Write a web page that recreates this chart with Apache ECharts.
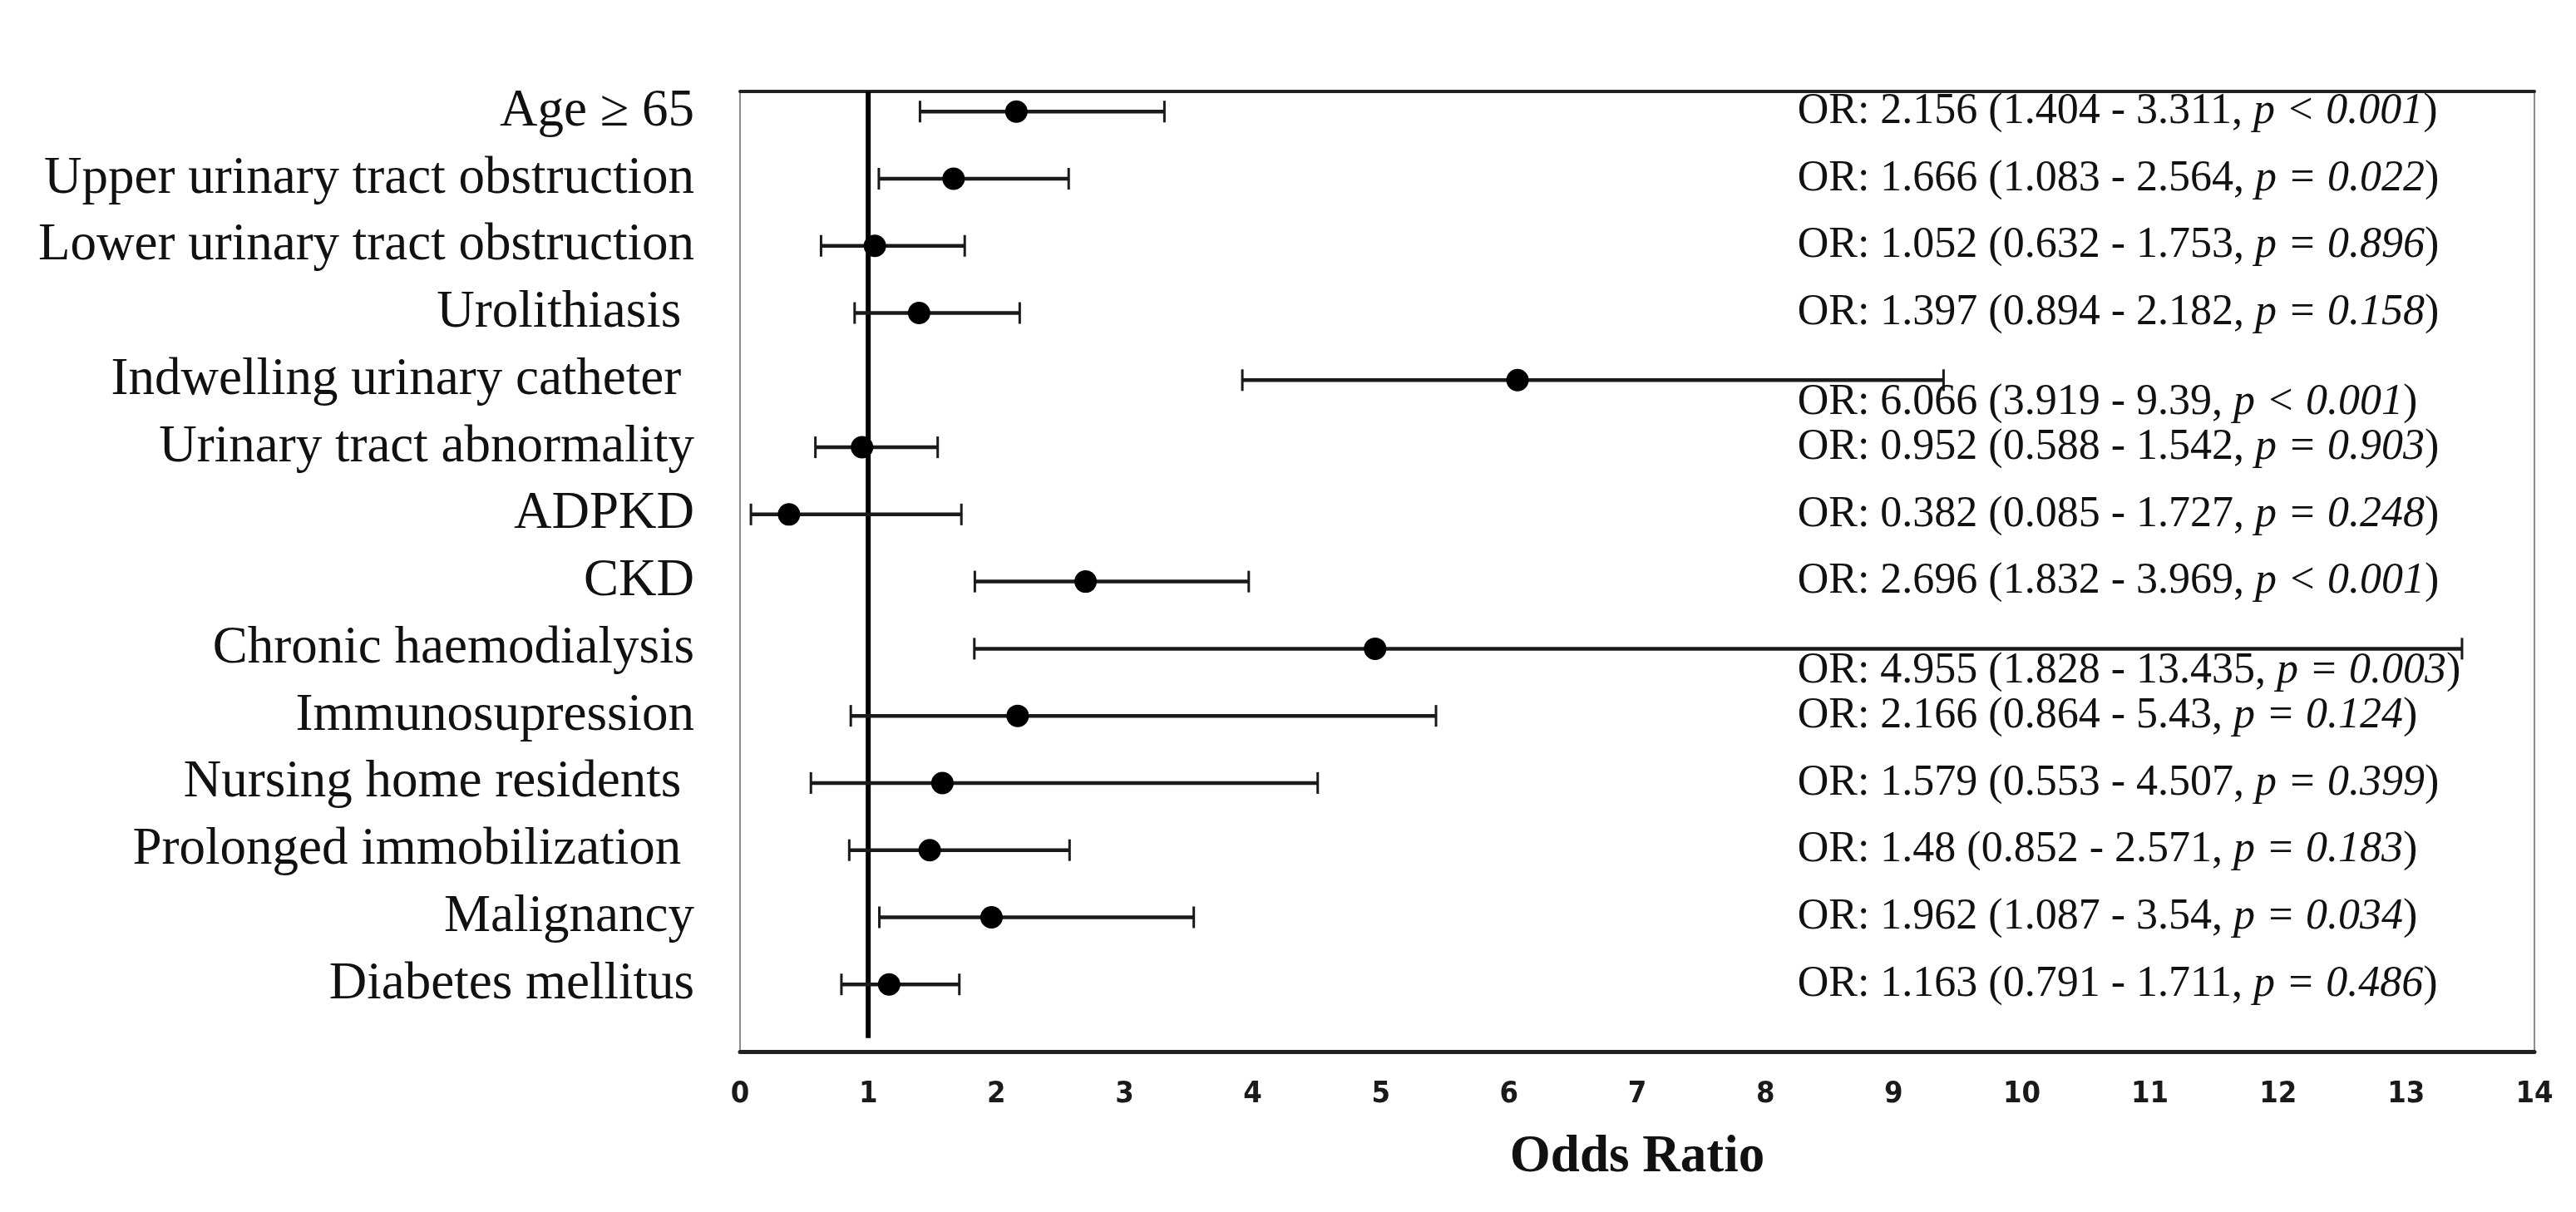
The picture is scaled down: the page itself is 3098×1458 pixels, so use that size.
<!DOCTYPE html>
<html>
<head>
<meta charset="utf-8">
<script src="https://cdn.jsdelivr.net/npm/echarts@6/dist/echarts.min.js"></script>
<style>
html,body{margin:0;padding:0;background:#fff;}
#chart{width:3098px;height:1458px;}
</style>
</head>
<body>
<div id="chart"></div>
<script>
// ---- data ----
const categories = [
  'Age \u2265 65',
  'Upper urinary tract obstruction',
  'Lower urinary tract obstruction',
  'Urolithiasis ',
  'Indwelling urinary catheter ',
  'Urinary tract abnormality',
  'ADPKD',
  'CKD',
  'Chronic haemodialysis',
  'Immunosupression',
  'Nursing home residents ',
  'Prolonged immobilization ',
  'Malignancy',
  'Diabetes mellitus'
];
const oddsRatio = [2.156, 1.666, 1.052, 1.397, 6.066, 0.952, 0.382, 2.696, 4.955, 2.166, 1.579, 1.48, 1.962, 1.163];
const ciLower   = [1.404, 1.083, 0.632, 0.894, 3.919, 0.588, 0.085, 1.832, 1.828, 0.864, 0.553, 0.852, 1.087, 0.791];
const ciUpper   = [3.311, 2.564, 1.753, 2.182, 9.39, 1.542, 1.727, 3.969, 13.435, 5.43, 4.507, 2.571, 3.54, 1.711];
const pValues   = ['< 0.001', '= 0.022', '= 0.896', '= 0.158', '< 0.001', '= 0.903', '= 0.248', '< 0.001', '= 0.003', '= 0.124', '= 0.399', '= 0.183', '= 0.034', '= 0.486'];
const xTicks    = [0, 1, 2, 3, 4, 5, 6, 7, 8, 9, 10, 11, 12, 13, 14];
const referenceOR = 1;

// ---- build ----
const rowIdx = categories.map((_, i) => i);
const seriesData = categories.map((_, i) => [ciLower[i], ciUpper[i], oddsRatio[i], i]);
const TEXT_COL = 8.25; // column (in OR units) where annotation text starts
const SERIF = '"Liberation Serif", "Times New Roman", serif';

const chart = echarts.init(document.getElementById('chart'), null, {renderer: 'canvas'});

const option = {
  backgroundColor: '#ffffff',
  animation: false,
  textStyle: {fontFamily: SERIF},
  grid: {
    left: 890, right: 50, top: 110, bottom: 193,
    show: true, borderColor: '#8c8c8c', borderWidth: 2, backgroundColor: 'transparent'
  },
  xAxis: [{
    type: 'value', min: xTicks[0], max: xTicks[xTicks.length - 1], interval: 1,
    position: 'bottom',
    axisLine: {show: true, onZero: false, lineStyle: {color: '#222', width: 5}},
    axisTick: {show: false},
    splitLine: {show: false},
    axisLabel: {fontFamily: '"DejaVu Sans Condensed", "DejaVu Sans", sans-serif', fontWeight: 'bold', fontSize: 36, color: '#1a1a1a', margin: 34},
    name: 'Odds Ratio', nameLocation: 'middle', nameGap: 96,
    nameTextStyle: {fontFamily: SERIF, fontWeight: 'bold', fontSize: 63, color: '#111'}
  }, {
    type: 'value', min: xTicks[0], max: xTicks[xTicks.length - 1], interval: 1,
    position: 'top',
    axisLine: {show: true, onZero: false, lineStyle: {color: '#222', width: 4}},
    axisTick: {show: false}, axisLabel: {show: false}, splitLine: {show: false}
  }],
  yAxis: {
    type: 'value', inverse: true, min: -0.3, max: 14,
    axisLine: {show: false}, axisTick: {show: false}, splitLine: {show: false},
    axisLabel: {
      customValues: rowIdx,
      formatter: v => categories[Math.round(v)] || '',
      fontFamily: SERIF, fontSize: 63, color: '#111', margin: 55
    }
  },
  series: [{
    type: 'line',
    silent: true,
    symbol: 'none',
    data: [[referenceOR, -0.3], [referenceOR, 13.8]],
    lineStyle: {color: '#000', width: 6},
    z: 1
  }, {
    type: 'custom',
    data: seriesData,
    encode: {x: [0, 1, 2], y: 3},
    z: 2,
    renderItem: function (params, api) {
      const lo = api.value(0), hi = api.value(1), or = api.value(2), i = api.value(3);
      const pLo = api.coord([lo, i]);
      const pHi = api.coord([hi, i]);
      const pOr = api.coord([or, i]);
      const pTx = api.coord([TEXT_COL, i]);
      const cap = 13;
      const dy = hi > TEXT_COL ? 27 : 0;
      const idx = Math.round(i);
      const txt = '{n|OR: ' + String(or) + ' (' + String(lo) + ' - ' + String(hi) + ', }{i|p ' + pValues[idx] + '}{n|)}';
      return {
        type: 'group',
        children: [
          {type: 'line', shape: {x1: pLo[0], y1: pLo[1], x2: pHi[0], y2: pHi[1]}, style: {stroke: '#1a1a1a', lineWidth: 4.5}},
          {type: 'line', shape: {x1: pLo[0], y1: pLo[1] - cap, x2: pLo[0], y2: pLo[1] + cap}, style: {stroke: '#1a1a1a', lineWidth: 3}},
          {type: 'line', shape: {x1: pHi[0], y1: pHi[1] - cap, x2: pHi[0], y2: pHi[1] + cap}, style: {stroke: '#1a1a1a', lineWidth: 3}},
          {type: 'circle', shape: {cx: pOr[0], cy: pOr[1], r: 13.5}, style: {fill: '#000'}},
          {
            type: 'text',
            style: {
              x: pTx[0], y: pTx[1] + dy,
              text: txt,
              align: 'left', verticalAlign: 'middle',
              fill: '#111',
              rich: {
                n: {fontFamily: SERIF, fontSize: 52, fill: '#111'},
                i: {fontFamily: SERIF, fontSize: 52, fontStyle: 'italic', fill: '#111'}
              }
            }
          }
        ]
      };
    }
  }]
};
chart.setOption(option);
</script>
</body>
</html>
